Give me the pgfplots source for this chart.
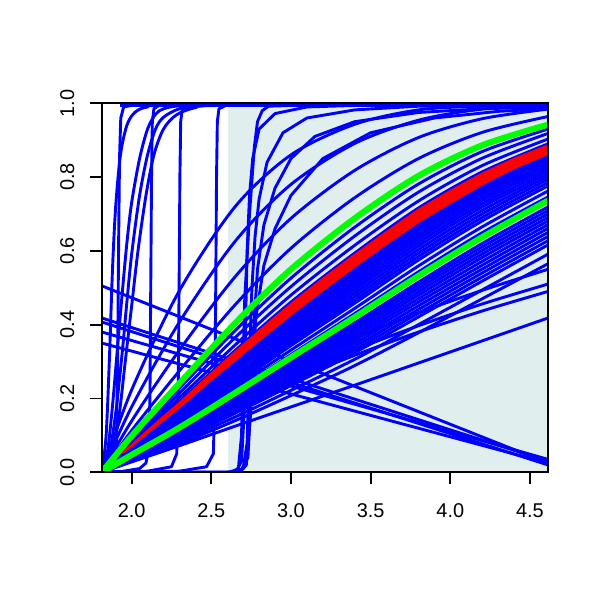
\documentclass[border=0pt]{standalone}
\usepackage{fontspec}
\setmainfont{Liberation Sans}
\setsansfont{Liberation Sans}
\usepackage{pgfplots}
\usepackage{pgfplotstable}
\pgfplotsset{compat=1.18}
\definecolor{azuretwo}{RGB}{224,238,238}
\definecolor{rblue}{RGB}{0,0,255}
\definecolor{rgreen}{RGB}{0,255,0}
\definecolor{rred}{RGB}{255,0,0}

\pgfplotstableread{
x a160 a128 a120 a112 a106 a100 a096 a094 a092 a090 a088 a086 a084 a082 a080 a078 a076 a074 a072 a069 a066 a061 a0595 a058 a0565 a055 a0535 a052 a0505 a049 a0475 a046 a043 a040 l55 l51 l49 l42 c337 c260 c200 g137 g064
1.814 0 0 0 0 0 0 0 0 0 0 0 0 0 0 0 0 0 0 0 0 0 0 0 0 0 0 0 0 0 0 0 0 0 0 0 0 0 0 0 0 0 0 0
2.0 0.113 0.092 0.086 0.081 0.076 0.072 0.070 0.0685 0.067 0.0655 0.064 0.0625 0.061 0.0595 0.058 0.0565 0.055 0.054 0.053 0.050 0.048 0.045 0.044 0.043 0.0415 0.040 0.039 0.038 0.037 0.036 0.035 0.034 0.032 0.030 0.052 0.046 0.044 0.028 0.223 0.177 0.139 0.098 0.047
2.3 0.275 0.227 0.214 0.202 0.192 0.182 0.176 0.1725 0.169 0.1655 0.162 0.1585 0.155 0.152 0.149 0.1455 0.142 0.1385 0.135 0.129 0.124 0.115 0.1125 0.110 0.1075 0.105 0.102 0.099 0.0965 0.094 0.091 0.088 0.083 0.077 0.129 0.116 0.110 0.072 0.492 0.407 0.331 0.241 0.121
2.65 0.454 0.384 0.365 0.345 0.330 0.315 0.304 0.299 0.294 0.2885 0.283 0.2775 0.272 0.2665 0.261 0.2555 0.250 0.244 0.238 0.230 0.221 0.206 0.2015 0.197 0.1925 0.188 0.1835 0.179 0.174 0.169 0.1645 0.160 0.150 0.140 0.212 0.192 0.182 0.125 0.720 0.626 0.530 0.404 0.215
3.0 0.607 0.526 0.503 0.480 0.461 0.442 0.429 0.422 0.415 0.408 0.401 0.394 0.387 0.380 0.373 0.3655 0.358 0.3505 0.343 0.331 0.319 0.299 0.293 0.287 0.2805 0.274 0.268 0.262 0.2555 0.249 0.242 0.235 0.222 0.208 0.287 0.261 0.248 0.177 0.860 0.780 0.688 0.550 0.311
3.4 0.744 0.664 0.640 0.615 0.594 0.573 0.558 0.5505 0.543 0.535 0.527 0.519 0.511 0.5025 0.494 0.485 0.476 0.467 0.458 0.444 0.430 0.405 0.3975 0.390 0.382 0.374 0.366 0.358 0.3495 0.341 0.3325 0.324 0.306 0.289 0.364 0.332 0.317 0.236 0.943 0.891 0.818 0.688 0.420
3.8 0.850 0.781 0.759 0.735 0.716 0.695 0.680 0.6725 0.665 0.6565 0.648 0.6395 0.631 0.622 0.613 0.6035 0.594 0.5845 0.575 0.559 0.543 0.515 0.5065 0.498 0.489 0.480 0.4705 0.461 0.451 0.441 0.431 0.421 0.400 0.378 0.432 0.397 0.380 0.296 0.982 0.954 0.907 0.803 0.532
4.2 0.921 0.869 0.851 0.831 0.814 0.795 0.782 0.7745 0.767 0.7595 0.752 0.744 0.736 0.7275 0.719 0.7095 0.700 0.6905 0.681 0.665 0.649 0.620 0.6105 0.601 0.5915 0.582 0.5715 0.561 0.5505 0.540 0.529 0.518 0.494 0.470 0.493 0.456 0.437 0.356 0.992 0.984 0.958 0.886 0.637
4.613 0.964 0.930 0.918 0.903 0.890 0.875 0.864 0.858 0.852 0.846 0.840 0.833 0.826 0.818 0.810 0.802 0.794 0.785 0.776 0.762 0.746 0.719 0.7095 0.700 0.6905 0.681 0.671 0.661 0.650 0.639 0.6275 0.616 0.591 0.565 0.550 0.510 0.490 0.418 0.994 0.994 0.984 0.942 0.736
}\bundle

\begin{document}
\begin{tikzpicture}
\path (0,0) rectangle (433.62pt,433.62pt);
\begin{axis}[
  at={(73.7pt,92.3pt)}, anchor=south west,
  scale only axis, width=322.3pt, height=266.7pt,
  xmin=1.814, xmax=4.613, ymin=0, ymax=1,
  xtick={2.0,2.5,3.0,3.5,4.0,4.5},
  ytick={0,0.2,0.4,0.6,0.8,1.0},
  tick align=outside, major tick length=8.5pt,
  xtick pos=lower, ytick pos=left,
  axis line style={line width=1.3pt},
  every tick/.style={black, line width=1.3pt},
  tick label style={font=\fontsize{14.4}{16}\selectfont},
  /pgf/number format/fixed, /pgf/number format/fixed zerofill,
  /pgf/number format/precision=1, /pgf/number format/assume math mode=true,
  xticklabel style={yshift=-10.6pt},
  yticklabel style={rotate=90, anchor=south, yshift=8pt},
  axis on top,
  clip=true,
  every axis plot/.append style={line join=round},
]
\addplot[fill=azuretwo, draw=none] coordinates {(2.605,0) (4.7,0) (4.7,1) (2.605,1)} \closedcycle;

\pgfplotsinvokeforeach{a160,a128,a120,a112,a106,a100,a096,a094,a092,a090,a088,a086,a084,a082,a080,a078,a076,a074,a072,a069,a066,a061,a0595,a058,a0565,a055,a0535,a052,a0505,a049,a0475,a046,a043,a040,l55,l51,l49,l42,c337,c260,c200}{
  \addplot[rblue, line width=2.1pt, smooth] table[x=x, y=#1]{\bundle};
}

% line of saturated curves just under the top
\addplot[rblue, line width=2.1pt] coordinates {(1.93,0.994) (4.613,0.994)};
% steep curves near the left
\addplot[rblue, line width=2.1pt] coordinates {(1.814,0) (1.87,0.004) (1.895,0.02) (1.905,0.08) (1.912,0.3) (1.918,0.6) (1.924,0.85) (1.932,0.96) (1.95,0.99) (2.0,0.994) (4.613,0.994)};
\addplot[rblue, line width=2.1pt, smooth] coordinates {(1.814,0) (1.85,0.06) (1.88,0.18) (1.91,0.33) (1.94,0.48) (1.97,0.62) (2.0,0.73) (2.05,0.85) (2.1,0.93) (2.15,0.97) (2.2,0.985) (2.3,0.993) (2.5,0.994) (4.613,0.994)};
\addplot[rblue, line width=2.1pt, smooth] coordinates {(1.814,0) (1.86,0.05) (1.9,0.16) (1.94,0.32) (1.97,0.46) (2.0,0.59) (2.05,0.75) (2.1,0.86) (2.15,0.93) (2.2,0.962) (2.3,0.985) (2.45,0.993) (2.6,0.994) (4.613,0.994)};
\addplot[rblue, line width=2.1pt, smooth] coordinates {(1.814,0) (1.87,0.04) (1.92,0.15) (1.96,0.3) (2.0,0.45) (2.04,0.6) (2.09,0.75) (2.14,0.86) (2.2,0.93) (2.28,0.968) (2.4,0.988) (2.6,0.994) (4.613,0.994)};
\addplot[rblue, line width=2.1pt, smooth] coordinates {(1.814,0) (1.84,0.1) (1.86,0.3) (1.88,0.55) (1.9,0.72) (1.93,0.86) (1.97,0.94) (2.02,0.975) (2.1,0.99) (2.3,0.994) (4.613,0.994)};
% near-vertical steps
\addplot[rblue, line width=2.1pt] coordinates {(1.814,0) (1.95,0.003) (2.05,0.01) (2.09,0.025) (2.105,0.06) (2.115,0.2) (2.12,0.5) (2.125,0.8) (2.13,0.95) (2.14,0.985) (2.17,0.994) (4.613,0.994)};
\addplot[rblue, line width=2.1pt] coordinates {(1.814,0) (2.1,0.003) (2.25,0.015) (2.283,0.05) (2.292,0.2) (2.298,0.5) (2.303,0.8) (2.308,0.95) (2.318,0.985) (2.35,0.994) (4.613,0.994)};
\addplot[rblue, line width=2.1pt] coordinates {(1.814,0) (2.3,0.003) (2.47,0.015) (2.513,0.05) (2.522,0.2) (2.528,0.5) (2.533,0.8) (2.538,0.95) (2.548,0.985) (2.59,0.994) (4.613,0.994)};
% steps near 2.7
\addplot[rblue, line width=2.1pt] coordinates {(1.814,0) (2.6,0) (2.66,0.005) (2.69,0.03) (2.705,0.15) (2.715,0.4) (2.725,0.6) (2.74,0.75) (2.76,0.85) (2.8,0.93) (2.9,0.972) (3.1,0.99) (3.4,0.994) (4.613,0.994)};
\addplot[rblue, line width=2.1pt] coordinates {(1.814,0) (2.62,0) (2.67,0.01) (2.69,0.1) (2.7,0.3) (2.71,0.47) (2.74,0.7) (2.77,0.88) (2.79,0.95) (2.82,0.98) (2.86,0.992) (3.0,0.994) (4.613,0.994)};
\addplot[rblue, line width=2.1pt] coordinates {(1.814,0) (2.65,0) (2.7,0.01) (2.725,0.08) (2.74,0.3) (2.755,0.5) (2.775,0.64) (2.8,0.74) (2.85,0.84) (2.95,0.92) (3.1,0.96) (3.4,0.982) (3.8,0.992) (4.613,0.994)};
\addplot[rblue, line width=2.1pt] coordinates {(1.814,0) (2.68,0) (2.72,0.02) (2.745,0.15) (2.765,0.38) (2.79,0.55) (2.83,0.67) (2.9,0.77) (3.0,0.85) (3.15,0.91) (3.4,0.95) (3.8,0.975) (4.2,0.985) (4.613,0.99)};
\addplot[rblue, line width=2.1pt] coordinates {(1.814,0) (2.68,0) (2.73,0.04) (2.755,0.25) (2.78,0.42) (2.83,0.56) (2.9,0.66) (3.0,0.75) (3.2,0.85) (3.5,0.92) (3.9,0.96) (4.3,0.978) (4.613,0.985)};
% decreasing lines
\addplot[rblue, line width=2.1pt] coordinates {(1.814,0.505) (4.613,0.025)};
\addplot[rblue, line width=2.1pt] coordinates {(1.814,0.418) (4.613,0.03)};
\addplot[rblue, line width=2.1pt] coordinates {(1.814,0.407) (4.613,0.02)};
\addplot[rblue, line width=2.1pt] coordinates {(1.814,0.38) (4.613,0.035)};
\addplot[rblue, line width=2.1pt] coordinates {(1.814,0.35) (4.613,0.025)};

% red band
\addplot[fill=rred, draw=rred, line width=0.6pt] coordinates {(1.937,0.055) (2.0,0.076) (2.15,0.134) (2.3,0.190) (2.475,0.260) (2.65,0.328) (2.825,0.394) (3.0,0.458) (3.2,0.526) (3.4,0.591) (3.6,0.653) (3.8,0.713) (4.0,0.764) (4.2,0.811) (4.4,0.851) (4.613,0.887)
 (4.613,0.861) (4.4,0.822) (4.2,0.778) (4.0,0.728) (3.8,0.676) (3.6,0.617) (3.4,0.555) (3.2,0.491) (3.0,0.425) (2.825,0.364) (2.65,0.302) (2.475,0.239) (2.3,0.174) (2.15,0.122) (2.0,0.069) (1.937,0.049)};

% green lines
\addplot[rgreen, line width=4.4pt, smooth] table[x=x, y=g137]{\bundle};
\addplot[rgreen, line width=4.4pt, smooth] table[x=x, y=g064]{\bundle};
\end{axis}
\end{tikzpicture}
\end{document}
